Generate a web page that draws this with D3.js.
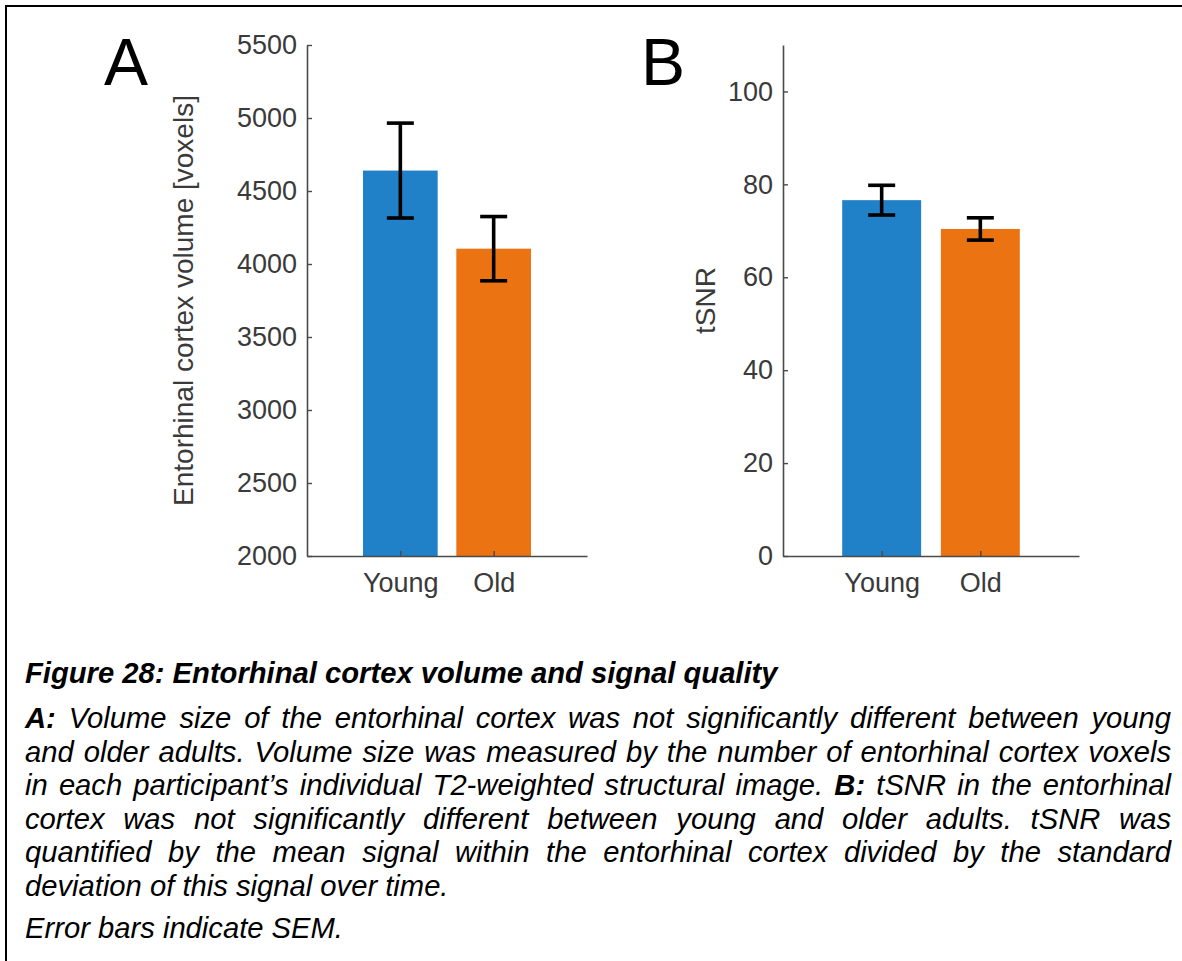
<!DOCTYPE html>
<html>
<head>
<meta charset="utf-8">
<script src="https://cdn.jsdelivr.net/npm/d3@7"></script>
<style>
    html, body { margin: 0; padding: 0; background: #fff; }
    svg { display: block; }
    .tick text { font-family: "Liberation Sans", Arial, Helvetica, sans-serif; }
</style>
</head>
<body>
<div id="chart"></div>
<script>
// Figure 28 — entorhinal cortex volume (A) and tSNR (B), young vs old
const groups = ["Young", "Old"];
const barColors = ["#2181c8", "#ec7311"];

const volumeMean = [4640, 4105];
const volumeSem = [325, 220];
const volumeTicks = [2000, 2500, 3000, 3500, 4000, 4500, 5000, 5500];

const tsnrMean = [76.6, 70.4];
const tsnrSem = [3.2, 2.4];
const tsnrTicks = [0, 20, 40, 60, 80, 100];

const captionTitle = "Figure 28: Entorhinal cortex volume and signal quality";
const captionLines = [
    "A: Volume size of the entorhinal cortex was not significantly different between young",
    "and older adults. Volume size was measured by the number of entorhinal cortex voxels",
    "in each participant\u2019s individual T2-weighted structural image. B: tSNR in the entorhinal",
    "cortex was not significantly different between young and older adults. tSNR was",
    "quantified by the mean signal within the entorhinal cortex divided by the standard",
    "deviation of this signal over time."
];
const captionJustify = [true, true, true, true, true, false];
const captionNote = "Error bars indicate SEM.";
const boldWords = new Set(["A:", "B:"]);

const W = 1182, H = 961;
const FONT = '"Liberation Sans", Arial, Helvetica, sans-serif';

const svg = d3.select("#chart").append("svg")
    .attr("width", W).attr("height", H);

svg.append("rect").attr("width", W).attr("height", H).attr("fill", "#fff");

// outer frame (right and bottom edges fall outside the picture)
svg.append("rect")
    .attr("x", 6).attr("y", 6).attr("width", W + 20).attr("height", H + 20)
    .attr("fill", "none").attr("stroke", "#000").attr("stroke-width", 2);

// ── One bar panel ──────────────────────────────────────────────────────────
function drawPanel(opt) {
    const g = svg.append("g");
    const x = d3.scaleLinear().domain([0, 3]).range([opt.x0, opt.x1]);
    const y = d3.scaleLinear().domain(opt.yDomain).range([556, 45]);
    const bw = x(0.8) - x(0);

    g.selectAll("rect.bar").data(opt.mean).join("rect")
        .attr("class", "bar")
        .attr("x", (d, i) => x(i + 1) - bw / 2)
        .attr("width", bw)
        .attr("y", d => y(d))
        .attr("height", d => y(opt.yDomain[0]) - y(d))
        .attr("fill", (d, i) => barColors[i]);

    const yAxis = g.append("g")
        .attr("transform", `translate(${opt.x0},0)`)
        .call(d3.axisLeft(y).tickValues(opt.ticks).tickFormat(d3.format("d"))
            .tickSizeInner(-5).tickSizeOuter(0).tickPadding(10));

    const xAxis = g.append("g")
        .attr("transform", "translate(0,556)")
        .call(d3.axisBottom(x).tickValues([1, 2]).tickFormat((d, i) => groups[i])
            .tickSizeInner(-5).tickSizeOuter(0).tickPadding(17));

    [yAxis, xAxis].forEach(a => {
        a.select(".domain").attr("stroke", "#4a4a4a").attr("stroke-width", 1.6);
        a.selectAll(".tick line").attr("stroke", "#4a4a4a").attr("stroke-width", 1.4);
        a.selectAll(".tick text").attr("fill", "#3a3a3a").attr("font-size", 27);
    });

    // error bars (SEM)
    const cap = 13.5;
    const eb = g.selectAll("g.err").data(opt.mean).join("g").attr("class", "err")
        .attr("stroke", "#000").attr("stroke-width", 3.6).attr("fill", "none");
    eb.append("line")
        .attr("x1", (d, i) => x(i + 1)).attr("x2", (d, i) => x(i + 1))
        .attr("y1", (d, i) => y(d + opt.sem[i])).attr("y2", (d, i) => y(d - opt.sem[i]));
    eb.append("line")
        .attr("x1", (d, i) => x(i + 1) - cap).attr("x2", (d, i) => x(i + 1) + cap)
        .attr("y1", (d, i) => y(d + opt.sem[i])).attr("y2", (d, i) => y(d + opt.sem[i]));
    eb.append("line")
        .attr("x1", (d, i) => x(i + 1) - cap).attr("x2", (d, i) => x(i + 1) + cap)
        .attr("y1", (d, i) => y(d - opt.sem[i])).attr("y2", (d, i) => y(d - opt.sem[i]));

    // y label
    g.append("text")
        .attr("transform", `translate(${opt.labelX},300.5) rotate(-90)`)
        .attr("text-anchor", "middle")
        .attr("font-family", FONT).attr("font-size", 28).attr("fill", "#3a3a3a")
        .text(opt.yLabel);

    // panel letter
    svg.append("text")
        .attr("x", opt.letterX).attr("y", 85)
        .attr("font-family", FONT).attr("font-size", 66).attr("fill", "#000")
        .text(opt.letter);
}

drawPanel({
    x0: 307, x1: 587, yDomain: [2000, 5500], ticks: volumeTicks,
    mean: volumeMean, sem: volumeSem,
    yLabel: "Entorhinal cortex volume [voxels]", labelX: 193,
    letter: "A", letterX: 104
});

drawPanel({
    x0: 783, x1: 1079, yDomain: [0, 110], ticks: tsnrTicks,
    mean: tsnrMean, sem: tsnrSem,
    yLabel: "tSNR", labelX: 715,
    letter: "B", letterX: 641
});

// ── Caption ───────────────────────────────────────────────────────────────
const capG = svg.append("g").attr("font-family", FONT).attr("font-style", "italic")
    .attr("fill", "#000");
const CAP_SIZE = 29.2, CAP_X0 = 25, CAP_X1 = 1171;

capG.append("text")
    .attr("x", CAP_X0).attr("y", 683)
    .attr("font-size", CAP_SIZE).attr("font-weight", "bold")
    .text(captionTitle);

function captionLine(str, baseline, justify) {
    const words = str.split(" ");
    const nodes = words.map(w => capG.append("text")
        .attr("y", baseline)
        .attr("font-size", CAP_SIZE)
        .attr("font-weight", boldWords.has(w) ? "bold" : "normal")
        .text(w));
    const widths = nodes.map(n => n.node().getComputedTextLength());
    const total = d3.sum(widths);
    const gap = justify ? (CAP_X1 - CAP_X0 - total) / (words.length - 1) : CAP_SIZE * 0.278;
    let cx = CAP_X0;
    nodes.forEach((n, i) => {
        n.attr("x", cx);
        cx += widths[i] + gap;
    });
}

captionLines.forEach((l, i) => captionLine(l, 728 + i * 33.6, captionJustify[i]));
captionLine(captionNote, 938, false);
</script>
</body>
</html>
